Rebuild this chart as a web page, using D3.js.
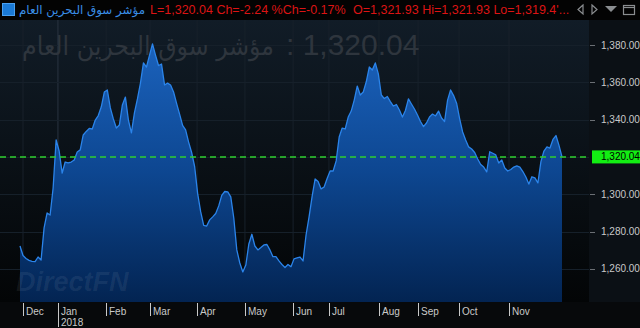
<!DOCTYPE html>
<html>
<head>
<meta charset="utf-8">
<script src="https://cdn.jsdelivr.net/npm/d3@7"></script>
<style>
  body { margin: 0; background: #000; overflow: hidden; }
  svg { display: block; }
</style>
</head>
<body>
<svg id="chart" width="640" height="328"></svg>
<script>
// index name + quote line shown in the title bar
var indexName = "مؤشر سوق البحرين العام";
var quoteLeft = "L=1,320.04 Ch=-2.24 %Ch=-0.17%";
var quoteRight = "O=1,321.93 Hi=1,321.93 Lo=1,319.4'...";
var lastValue = 1320.04;

// closing values, one every ~1.4 trading days (Dec 2017 -> Nov 2018)
var values = [
  1272.3,1267.2,1265.6,1264.6,1264.1,1263.9,1266.4,1264.8,1282.0,1290.0,
  1288.9,1303.4,1329.1,1323.2,1311.4,1317.3,1316.8,1317.3,1318.4,1322.7,
  1323.8,1331.8,1333.7,1335.3,1335.0,1339.8,1342.2,1346.9,1354.8,1355.9,
  1346.3,1340.4,1335.5,1337.1,1347.9,1352.1,1339.8,1332.9,1343.6,1351.1,
  1359.6,1370.4,1368.2,1374.4,1380.6,1374.6,1369.0,1369.8,1358.6,1359.6,
  1358.6,1354.8,1348.7,1343.0,1336.9,1334.5,1328.0,1322.4,1314.9,1300.4,
  1290.7,1283.3,1283.0,1286.3,1287.9,1289.7,1293.8,1299.4,1301.5,1301.3,
  1298.6,1287.3,1270.2,1263.2,1258.4,1262.1,1273.4,1278.6,1272.3,1270.2,
  1271.5,1272.9,1273.1,1270.2,1266.6,1266.6,1264.3,1262.4,1260.8,1262.4,
  1261.2,1265.4,1265.9,1266.4,1264.3,1278.2,1287.9,1298.8,1308.2,1306.9,
  1302.9,1303.9,1308.5,1312.5,1312.5,1317.9,1330.7,1335.5,1335.0,1341.4,
  1344.6,1350.5,1358.0,1353.2,1354.8,1360.3,1368.2,1366.6,1370.4,1364.5,
  1353.2,1351.3,1352.4,1349.7,1347.3,1348.1,1345.2,1341.4,1344.9,1351.1,
  1348.4,1345.7,1342.5,1339.0,1336.3,1338.2,1341.4,1343.0,1342.0,1344.6,
  1340.9,1339.0,1350.5,1355.9,1352.9,1348.8,1340.6,1333.4,1329.1,1325.4,
  1324.3,1322.4,1318.9,1316.0,1314.6,1312.0,1322.8,1322.0,1321.1,1316.8,
  1318.4,1314.1,1312.5,1313.3,1314.6,1315.2,1314.6,1312.2,1309.3,1305.5,
  1309.4,1308.8,1306.1,1317.5,1323.2,1325.4,1324.8,1329.4,1331.5,1326.2,
  1320.04
];

// month ticks, placed at the sample index where each month starts
var monthLabels = ["Dec","Jan","Feb","Mar","Apr","May","Jun","Jul","Aug","Sep","Oct","Nov"];
var monthIndex  = [1.0, 12.6, 28.6, 43.2, 58.8, 74.7, 90.7, 102.6, 119.2, 132.2, 145.8, 162.4];
var yearLabel = "2018";

var yTicks = [1260, 1280, 1300, 1340, 1360, 1380];

var svg = d3.select("#chart");
var W = 640, H = 328;
var plotL = 0, plotR = 589, plotT = 20, plotB = 302;

var x = d3.scaleLinear().domain([0, values.length - 1]).range([20, 562]);
var y = d3.scaleLinear().domain([1242.3, 1393.4]).range([plotB, plotT]);

var defs = svg.append("defs");
var bg = defs.append("linearGradient").attr("id", "bgGrad")
  .attr("x1", 0).attr("y1", 0).attr("x2", 0).attr("y2", 1);
bg.append("stop").attr("offset", "0%").attr("stop-color", "#111c27");
bg.append("stop").attr("offset", "100%").attr("stop-color", "#030506");

var ag = defs.append("linearGradient").attr("id", "areaGrad")
  .attr("gradientUnits", "userSpaceOnUse")
  .attr("x1", 0).attr("y1", 45).attr("x2", 0).attr("y2", plotB);
ag.append("stop").attr("offset", "0%").attr("stop-color", "#1b62bc");
ag.append("stop").attr("offset", "50%").attr("stop-color", "#0d4690");
ag.append("stop").attr("offset", "100%").attr("stop-color", "#032452");

// panels
svg.append("rect").attr("width", W).attr("height", H).attr("fill", "#07090b");
svg.append("rect").attr("width", W).attr("height", plotT).attr("fill", "#030303");
svg.append("rect").attr("x", plotR).attr("y", plotT).attr("width", W - plotR).attr("height", plotB - plotT)
  .attr("fill", "#0b1015");
svg.append("rect").attr("x", plotL).attr("y", plotT).attr("width", plotR - plotL).attr("height", plotB - plotT)
  .attr("fill", "url(#bgGrad)");

// grid
svg.append("g").selectAll("line").data(monthIndex).enter().append("line")
  .attr("x1", function(d) { return x(d); }).attr("x2", function(d) { return x(d); })
  .attr("y1", plotT).attr("y2", plotB)
  .attr("stroke", function(d, i) { return i === 1 ? "#2a3440" : "#18212b"; })
  .attr("stroke-width", 1);
svg.append("g").selectAll("line").data(yTicks.concat([1320])).enter().append("line")
  .attr("x1", plotL).attr("x2", plotR)
  .attr("y1", function(d) { return Math.round(y(d)) + 0.5; })
  .attr("y2", function(d) { return Math.round(y(d)) + 0.5; })
  .attr("stroke", "#16202a").attr("stroke-width", 1);

// big watermark
var wm = svg.append("g").attr("fill", "#2e353d");
wm.append("text").attr("x", 22).attr("y", 55)
  .attr("font-family", "DejaVu Sans").attr("font-size", 26)
  .attr("textLength", 252).attr("lengthAdjust", "spacingAndGlyphs")
  .text(indexName);
wm.append("text").attr("x", 286).attr("y", 55)
  .attr("font-family", "Liberation Sans, Arial").attr("font-size", 30)
  .text(": " + d3.format(",.2f")(lastValue));

// area + line
var area = d3.area()
  .x(function(d, i) { return x(i); })
  .y0(plotB)
  .y1(function(d) { return y(d); });
var line = d3.line()
  .x(function(d, i) { return x(i); })
  .y(function(d) { return y(d); });

svg.append("path").datum(values).attr("d", area).attr("fill", "url(#areaGrad)");
svg.append("path").datum(values).attr("d", line)
  .attr("fill", "none").attr("stroke", "#2b84ea").attr("stroke-width", 1.3)
  .attr("stroke-linejoin", "round");

// DirectFN watermark
svg.append("text").attr("x", 16).attr("y", 291)
  .attr("font-family", "Liberation Sans, Arial").attr("font-size", 27)
  .attr("font-weight", "bold").attr("font-style", "italic")
  .attr("fill", "#ffffff").attr("fill-opacity", 0.07)
  .text("DirectFN");

// last value dashed line
svg.append("line")
  .attr("x1", plotL).attr("x2", plotR)
  .attr("y1", y(lastValue)).attr("y2", y(lastValue))
  .attr("stroke", "#2fd02f").attr("stroke-width", 1.5)
  .attr("stroke-dasharray", "6,4");

// right axis
var yAxis = svg.append("g").attr("font-family", "Liberation Sans, Arial").attr("font-size", 10);
yAxis.selectAll("line").data(yTicks).enter().append("line")
  .attr("x1", 590).attr("x2", 595)
  .attr("y1", function(d) { return Math.round(y(d)) + 0.5; })
  .attr("y2", function(d) { return Math.round(y(d)) + 0.5; })
  .attr("stroke", "#6b6f74");
yAxis.selectAll("text").data(yTicks).enter().append("text")
  .attr("x", 601).attr("y", function(d) { return y(d) + 3.5; })
  .attr("fill", "#c9c9c9")
  .text(function(d) { return d3.format(",.2f")(d); });

svg.append("rect").attr("x", 592).attr("y", y(lastValue) - 6.5).attr("width", 48).attr("height", 13)
  .attr("fill", "#13ee13");
svg.append("text").attr("x", 601).attr("y", y(lastValue) + 3.5)
  .attr("font-family", "Liberation Sans, Arial").attr("font-size", 10).attr("fill", "#000")
  .text(d3.format(",.2f")(lastValue));

// bottom axis
var xAxis = svg.append("g").attr("font-family", "Liberation Sans, Arial").attr("font-size", 10);
xAxis.selectAll("line").data(monthIndex).enter().append("line")
  .attr("x1", function(d) { return Math.round(x(d)) + 0.5; })
  .attr("x2", function(d) { return Math.round(x(d)) + 0.5; })
  .attr("y1", 303).attr("y2", function(d, i) { return i === 1 ? 327 : 316; })
  .attr("stroke", "#c9c9c9");
xAxis.selectAll("text.m").data(monthIndex).enter().append("text")
  .attr("class", "m")
  .attr("x", function(d) { return Math.round(x(d)) + 3; })
  .attr("y", 315)
  .attr("fill", "#c9c9c9")
  .text(function(d, i) { return monthLabels[i]; });
xAxis.append("text").attr("x", Math.round(x(monthIndex[1])) + 3).attr("y", 326)
  .attr("fill", "#c9c9c9").text(yearLabel);

// title bar
svg.append("rect").attr("x", 2.5).attr("y", 3.5).attr("width", 12).attr("height", 12)
  .attr("fill", "#1b7ad6").attr("stroke", "#4aa0f0");
svg.append("text").attr("x", 19).attr("y", 14)
  .attr("font-family", "DejaVu Sans").attr("font-size", 12)
  .attr("textLength", 126).attr("lengthAdjust", "spacingAndGlyphs")
  .attr("fill", "#3a8ee6").text(indexName);
var q = svg.append("g").attr("font-family", "Liberation Sans, Arial").attr("font-size", 12.5)
  .attr("fill", "#dc1414");
q.append("text").attr("x", 150).attr("y", 14).text(quoteLeft);
q.append("text").attr("x", 353).attr("y", 14).text(quoteRight);

// window buttons
var ic = svg.append("g").attr("fill", "none").attr("stroke", "#8a8d90").attr("stroke-width", 1.2);
ic.append("path").attr("d", "M583,5 L578,9.5 L583,14 Z");
ic.append("path").attr("d", "M592,5 L597,9.5 L592,14 Z");
svg.append("path").attr("d", "M605,6 L617,6 L611,12 Z").attr("fill", "#8a8d90");
ic.append("rect").attr("x", 623.5).attr("y", 5.5).attr("width", 11).attr("height", 9);
ic.append("line").attr("x1", 623.5).attr("x2", 634.5).attr("y1", 7.5).attr("y2", 7.5);
</script>
</body>
</html>
